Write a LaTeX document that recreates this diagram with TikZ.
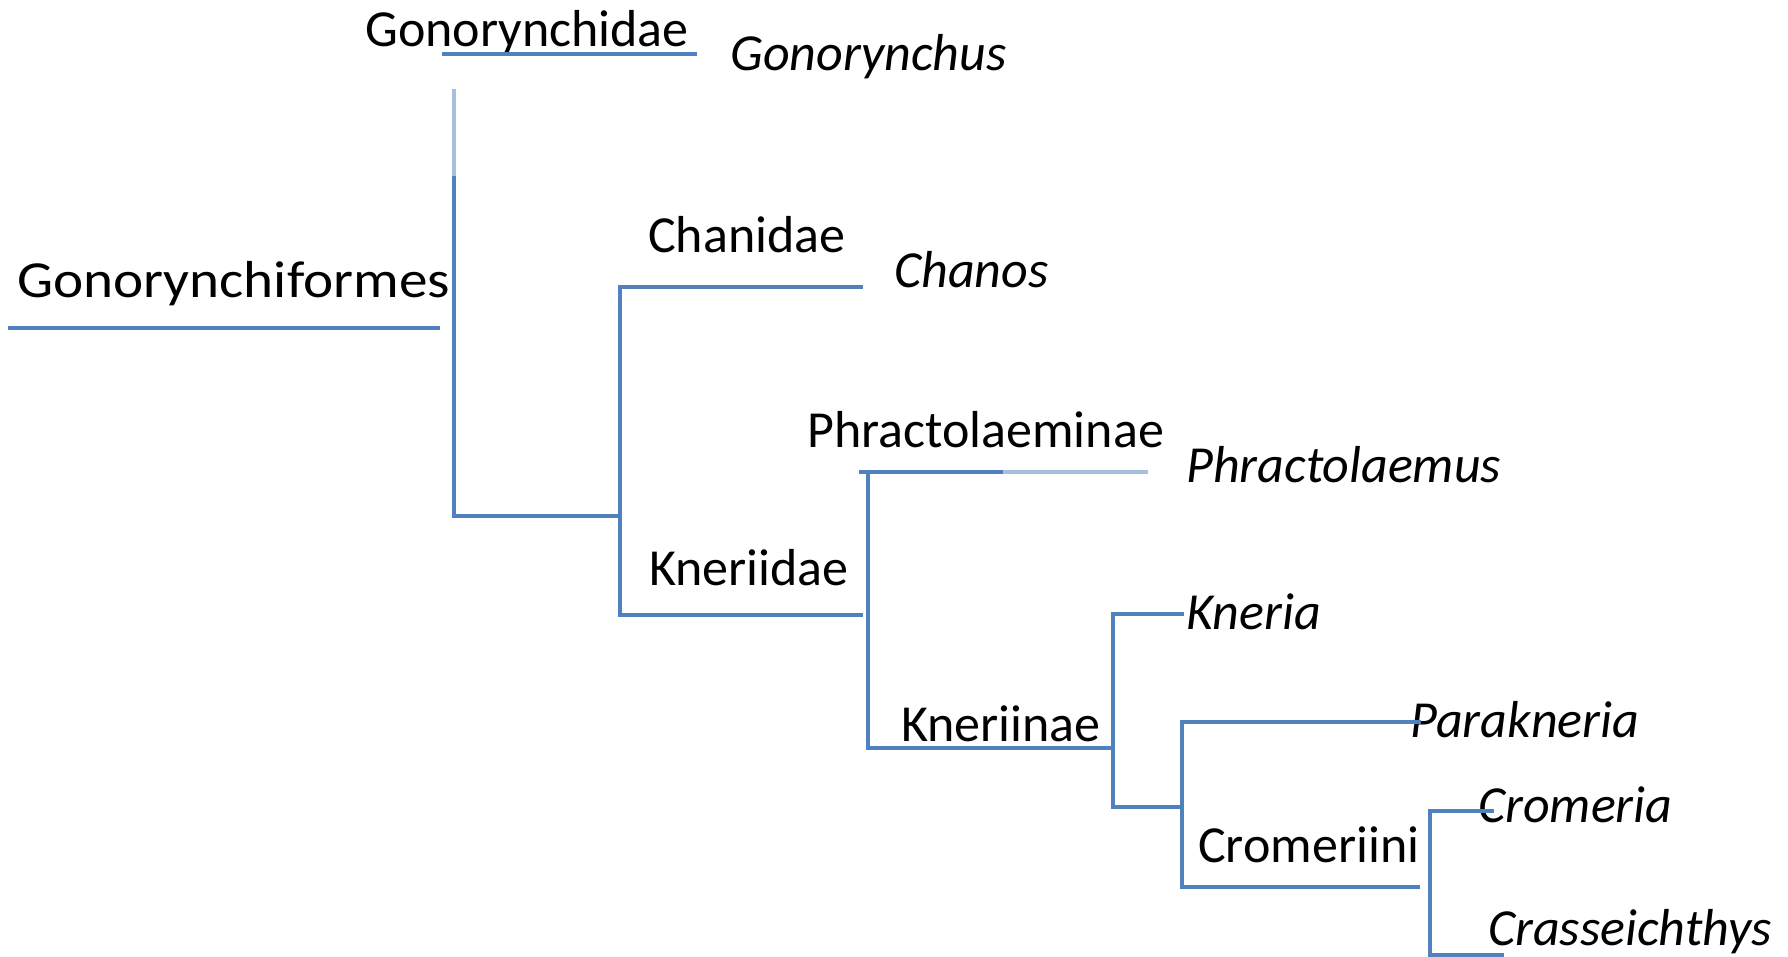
\documentclass[tikz,border=0pt]{standalone}
\usepackage{fontspec}
\setmainfont{Carlito}
\definecolor{tree}{HTML}{4F81BD}
\definecolor{treelight}{HTML}{A7BFDE}
\begin{document}
\begin{tikzpicture}[x=1pt,y=-1pt,
  br/.style={draw=tree,line width=3.5pt,line cap=rect},
  lbl/.style={anchor=base west,inner sep=0pt,font=\fontsize{52}{60}\selectfont},
  gen/.style={lbl,font=\fontsize{52}{60}\selectfont\itshape}]
\useasboundingbox (0,0) rectangle (1788,957);
% labels
\node[lbl] (tGonorynchidae) at (365,47) {Gonorynchidae};
\node[gen] (tGonorynchus) at (730,71) {Gonorynchus};
\node[lbl] (tGonorynchiformes) at (17,298) {\scalebox{1.1}[1]{Gonorynchiformes}};
\node[lbl] (tChanidae) at (648,253) {Chanidae};
\node[gen] (tChanos) at (894,288) {Chanos};
\node[lbl] (tPhractolaeminae) at (807,447) {Phractolaeminae};
\node[gen] (tPhractolaemus) at (1186,482) {Phractolaemus};
\node[lbl] (tKneriidae) at (649,585) {Kneriidae};
\node[gen] (tKneria) at (1186,629) {Kneria};
\node[lbl] (tKneriinae) at (901,741) {Kneriinae};
\node[gen] (tParakneria) at (1410,737) {Parakneria};
\node[lbl] (tCromeriini) at (1198,862) {Cromeriini};
\node[gen] (tCromeria) at (1478,822) {Cromeria};
\node[gen] (tCrasseichthys) at (1488,945) {Crasseichthys};
% tree points
\coordinate (rootA) at (8,328);
\coordinate (rootB) at (440,328);
\coordinate (gA) at (442,54);
\coordinate (gB) at (697,54);
\coordinate (v1top) at (454,89);
\coordinate (v1mid) at (454,178);
\coordinate (v1bot) at (454,516);
\coordinate (n1) at (620,516);
\coordinate (chA) at (620,287);
\coordinate (chB) at (861,287);
\coordinate (knA) at (620,615);
\coordinate (knB) at (861,615);
\coordinate (phA) at (859,472);
\coordinate (phM) at (1003,472);
\coordinate (phB) at (1148,472);
\coordinate (v3top) at (868,472);
\coordinate (v3bot) at (868,748);
\coordinate (kiB) at (1113,748);
\coordinate (kA) at (1113,614);
\coordinate (kB) at (1182,614);
\coordinate (kC) at (1113,807);
\coordinate (kD) at (1182,807);
\coordinate (pA) at (1182,722);
\coordinate (pB) at (1419,722);
\coordinate (cA) at (1182,887);
\coordinate (cB) at (1418,887);
\coordinate (crA) at (1430,811);
\coordinate (crB) at (1492,811);
\coordinate (csA) at (1430,955);
\coordinate (csB) at (1502,955);
% branches
\draw[br,line cap=butt] (rootA) -- (rootB);
\draw[br,line cap=butt] (gA) -- (gB);
\draw[br,draw=treelight,line cap=butt] (v1top) -- (v1mid);
\draw[br] (v1mid) -- (v1bot) -- (n1);
\draw[br] (chB) -- (chA) -- (knA) -- (knB);
\draw[br,line cap=butt] (phA) -- (phM);
\draw[br,draw=treelight,line cap=butt] (phM) -- (phB);
\draw[br] (v3top) -- (v3bot) -- (kiB);
\draw[br] (kB) -- (kA) -- (kC) -- (kD);
\draw[br] (pB) -- (pA) -- (cA) -- (cB);
\draw[br] (crB) -- (crA) -- (csA) -- (csB);
\end{tikzpicture}
\end{document}
